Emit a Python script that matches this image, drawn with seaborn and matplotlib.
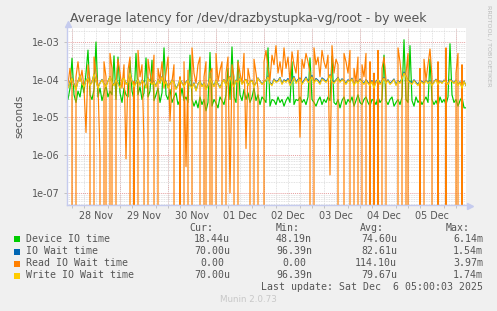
import numpy as np
import pandas as pd
import matplotlib
matplotlib.use("Agg")
import matplotlib.pyplot as plt
import matplotlib.dates as mdates
from matplotlib.lines import Line2D
from matplotlib.ticker import LogLocator, NullFormatter, FixedLocator
import seaborn as sns

# ---------------- data ----------------
series_names = ["Device IO time", "IO Wait time", "Read IO Wait time", "Write IO Wait time"]
series_colors = ["#00CC00", "#0066B3", "#FF8000", "#FFCC00"]
start_time = "2025-11-27 21:00"
sample_step = "1h"

# values in microseconds, one sample per hour
device_us = [45, 30, 60, 370, 40, 25, 50, 35, 80, 45,
             150, 610, 40, 30, 55, 1000, 35, 60, 28, 45,
             70, 35, 50, 40, 430, 30, 400, 45, 25, 60,
             40, 35, 320, 50, 30, 500, 40, 65, 30, 45,
             380, 35, 50, 330, 28, 40, 60, 25, 45, 700,
             40, 30, 55, 25, 35, 45, 22, 30, 60, 28,
             35, 25, 450, 30, 20, 28, 18, 35, 22, 30,
             15, 25, 530, 20, 30, 24, 18, 35, 28, 22,
             40, 200, 30, 740, 35, 25, 330, 40, 28, 55,
             30, 45, 25, 35, 60, 28, 40, 22, 35, 30,
             25, 700, 20, 30, 28, 22, 35, 25, 30, 20,
             28, 35, 25, 300, 22, 30, 28, 35, 25, 30,
             22, 35, 380, 30, 25, 20, 28, 35, 22, 30,
             25, 35, 28, 420, 25, 22, 30, 18, 28, 35,
             22, 30, 25, 35, 20, 28, 40, 25, 22, 30,
             35, 25, 20, 30, 28, 22, 35, 25, 30, 450,
             28, 22, 30, 35, 20, 25, 30, 22, 35, 1150,
             30, 25, 800, 28, 20, 35, 25, 30, 22, 28,
             35, 25, 350, 30, 22, 28, 20, 35, 25, 30,
             22, 35, 900, 40, 25, 30, 20, 28, 35, 18,
             18]
iowait_us = [72, 63, 88, 112, 78, 58, 92, 133, 82, 68,
             98, 112, 73, 88, 142, 92, 63, 83, 102, 78,
             68, 92, 122, 88, 73, 102, 83, 63, 98, 112,
             78, 88, 152, 92, 68, 83, 102, 73, 98, 88,
             63, 112, 92, 78, 88, 68, 102, 83, 122, 73,
             92, 63, 78, 98, 88, 58, 73, 102, 83, 68,
             88, 98, 73, 63, 83, 53, 78, 92, 68, 83,
             58, 73, 112, 88, 68, 98, 78, 63, 83, 102,
             73, 92, 122, 83, 68, 98, 88, 112, 78, 92,
             102, 73, 88, 98, 68, 83, 112, 92, 78, 88,
             98, 125, 85, 75, 105, 90, 95, 115, 80, 100,
             92, 108, 78, 98, 122, 88, 102, 112, 82, 97,
             118, 92, 102, 130, 88, 108, 97, 82, 112, 102,
             90, 106, 136, 96, 85, 100, 116, 90, 106, 95,
             80, 100, 90, 110, 75, 95, 85, 105, 90, 80,
             100, 85, 75, 95, 65, 90, 105, 80, 95, 115,
             85, 100, 80, 90, 105, 75, 95, 85, 110, 160,
             125, 95, 90, 80, 100, 85, 75, 95, 90, 80,
             98, 83, 93, 73, 88, 103, 78, 93, 83, 98,
             88, 78, 103, 93, 83, 98, 73, 88, 63, 92,
             70]
read_us = [150, 80, 200, 60, 0, 120, 300, 90, 180, 60,
           4, 250, 100, 0, 400, 150, 70, 1, 0, 300,
           120, 0, 500, 200, 0, 80, 350, 150, 60, 250,
           0.8, 180, 400, 0, 90, 0, 600, 120, 250, 2,
           0, 350, 150, 80, 450, 0, 200, 100, 300, 60,
           150, 400, 8, 90, 250, 0, 0, 120, 0, 300,
           0.5, 180, 0, 700, 150, 80, 250, 400, 0, 120,
           300, 0, 150, 200, 0, 500, 90, 180, 300, 0,
           150, 400, 0.1, 250, 120, 0, 300, 150, 80, 500,
           1.5, 200, 100, 0, 350, 150, 60, 0, 0, 300,
           600, 200, 100, 450, 250, 800, 150, 300, 120, 700,
           200, 400, 90, 550, 250, 150, 600, 3, 350, 200,
           500, 300, 150, 0, 700, 250, 400, 120, 600, 300,
           200, 450, 0.3, 800, 150, 350, 250, 0, 0, 500,
           300, 150, 600, 0, 200, 90, 400, 0, 250, 120,
           500, 0, 300, 0, 150, 0, 600, 0, 200, 400,
           100, 0, 0, 0, 0, 0, 700, 300, 80, 0,
           150, 500, 0, 0, 0, 0, 0, 200, 0, 350,
           100, 250, 650, 120, 0, 0, 300, 0, 0, 0,
           700, 0, 0, 0, 0, 150, 500, 0, 250, 0,
           0]
write_us = [70, 60, 85, 110, 75, 55, 90, 130, 80, 65,
            95, 110, 70, 85, 140, 90, 60, 80, 100, 75,
            65, 90, 120, 85, 70, 100, 80, 60, 95, 110,
            75, 85, 150, 90, 65, 80, 100, 70, 95, 85,
            60, 110, 90, 75, 85, 65, 100, 80, 120, 70,
            90, 60, 75, 95, 85, 55, 70, 100, 80, 65,
            85, 95, 70, 60, 80, 50, 75, 90, 65, 80,
            55, 70, 110, 85, 65, 95, 75, 60, 80, 100,
            70, 90, 120, 80, 65, 95, 85, 110, 75, 90,
            100, 70, 85, 95, 65, 80, 110, 90, 75, 85,
            95, 120, 80, 70, 100, 85, 90, 110, 75, 95,
            85, 100, 70, 90, 115, 80, 95, 105, 75, 90,
            110, 85, 95, 120, 80, 100, 90, 75, 105, 95,
            85, 100, 130, 90, 80, 95, 110, 85, 100, 90,
            75, 95, 85, 105, 70, 90, 80, 100, 85, 75,
            95, 80, 70, 90, 60, 85, 100, 75, 90, 110,
            80, 95, 75, 85, 100, 70, 90, 80, 105, 150,
            120, 90, 85, 75, 95, 80, 70, 90, 85, 75,
            95, 80, 90, 70, 85, 100, 75, 90, 80, 95,
            85, 75, 100, 90, 80, 95, 70, 85, 60, 90,
            70]

cur_vals = ["18.44u", "70.00u", "0.00", "70.00u"]
min_vals = ["48.19n", "96.39n", "0.00", "96.39n"]
avg_vals = ["74.60u", "82.61u", "114.10u", "79.67u"]
max_vals = ["6.14m", "1.54m", "3.97m", "1.74m"]
y_tick_values = [1e-7, 1e-6, 1e-5, 1e-4, 1e-3]
y_tick_labels = ["1e-07", "1e-06", "1e-05", "1e-04", "1e-03"]
title_text = "Average latency for /dev/drazbystupka-vg/root - by week"
last_update = "Last update: Sat Dec  6 05:00:03 2025"

# ---------------- build table ----------------
frames = []
for name, vals in zip(series_names, [device_us, iowait_us, read_us, write_us]):
    t = pd.date_range(start_time, periods=len(vals), freq=sample_step)
    frames.append(pd.DataFrame({"time": t,
                                "value": np.asarray(vals, dtype=float) * 1e-6,
                                "series": name}))
df = pd.concat(frames, ignore_index=True)

# ---------------- figure ----------------
W, H = 497, 311
BG = "#F0F0F0"
TXT = "#555555"
fig = plt.figure(figsize=(W / 100, H / 100), dpi=100, facecolor=BG)
L, R, T, B = 67, 466, 28, 205
ax = fig.add_axes([L / W, 1 - B / H, (R - L) / W, (B - T) / H])
ax.set_facecolor("white")

sns.lineplot(data=df, x="time", y="value", hue="series", hue_order=series_names,
             palette=series_colors, estimator=None, legend=False,
             linewidth=0.85, ax=ax, sort=True)

ax.set_yscale("log")
ax.set_ylim(4.8e-8, 2.35e-3)
ax.set_xlim(pd.Timestamp("2025-11-27 21:30"), pd.Timestamp("2025-12-06 05:00"))

# y ticks
ax.yaxis.set_major_locator(FixedLocator(y_tick_values))
ax.set_yticklabels(y_tick_labels)
ax.yaxis.set_minor_locator(LogLocator(base=10, subs=np.arange(2, 10), numticks=20))
ax.yaxis.set_minor_formatter(NullFormatter())

# x ticks: labels at noon, grid at midnight (red) and every 6 hours (grey)
ax.xaxis.set_major_locator(mdates.HourLocator(byhour=[12]))
ax.xaxis.set_major_formatter(mdates.DateFormatter("%d %b"))
ax.xaxis.set_minor_locator(mdates.HourLocator(byhour=[0, 6, 18]))

ax.grid(False)
ax.grid(which="minor", axis="both", color="#d8d8d8", linestyle=(0, (1, 1)), linewidth=0.6)
ax.grid(which="major", axis="x", color="#d8d8d8", linestyle=(0, (1, 1)), linewidth=0.6)
ax.grid(which="major", axis="y", color="#e6a0a0", linestyle=(0, (1, 1)), linewidth=0.7)
for d in pd.date_range("2025-11-28", "2025-12-06", freq="D"):
    ax.axvline(d, color="#e6a0a0", linestyle=(0, (1, 1)), linewidth=0.7, zorder=0.5)

ax.tick_params(axis="both", which="both", colors="#bbbbbb", labelcolor=TXT,
               labelsize=6.9, length=2, width=0.6)
ax.tick_params(axis="x", which="major", length=0, pad=4)
ax.tick_params(axis="y", which="major", pad=3)
ax.tick_params(axis="y", which="minor", length=0)
for lab in ax.get_xticklabels() + ax.get_yticklabels():
    lab.set_fontfamily("DejaVu Sans")

for s in ["top", "right"]:
    ax.spines[s].set_visible(False)
for s in ["left", "bottom"]:
    ax.spines[s].set_color("#c5cbee")
    ax.spines[s].set_linewidth(1.0)
ax.set_xlabel("")
ax.set_ylabel("seconds", color=TXT, fontsize=7.6, labelpad=6)

# axis arrows (as markers, not text)
fig.add_artist(Line2D([(R + 4) / W], [1 - (B + 0.5) / H], marker=">", markersize=4,
                      color="#c5cbee", transform=fig.transFigure, linestyle="none"))
fig.add_artist(Line2D([(L + 0.5) / W], [1 - (T - 4) / H], marker="^", markersize=4,
                      color="#c5cbee", transform=fig.transFigure, linestyle="none"))

# title
fig.text(0.5, 1 - 18.5 / H, title_text, ha="center", va="center",
         fontsize=9.0, color=TXT, family="DejaVu Sans")
fig.text(489 / W, 1 - 5 / H, "RRDTOOL / TOBI OETIKER", rotation=270,
         ha="center", va="top", fontsize=4.6, color="#bbbbbb", family="DejaVu Sans")

# legend table
mono = dict(family="DejaVu Sans Mono", fontsize=7.1, color=TXT)
def fy(y):
    return 1 - y / H

hdr_y = 227.7
fig.text(213 / W, fy(hdr_y), "Cur:", ha="right", va="center", **mono)
fig.text(300 / W, fy(hdr_y), "Min:", ha="right", va="center", **mono)
fig.text(384 / W, fy(hdr_y), "Avg:", ha="right", va="center", **mono)
fig.text(470 / W, fy(hdr_y), "Max:", ha="right", va="center", **mono)

row_ys = [239.3, 251.5, 263.5, 275.5]
col_right = [230, 312, 397, 483]
for i, name in enumerate(series_names):
    y = row_ys[i]
    fig.patches.append(plt.Rectangle((14 / W, fy(y + 3)), 6 / W, 6 / H,
                                     transform=fig.transFigure,
                                     facecolor=series_colors[i], edgecolor="none"))
    fig.text(26 / W, fy(y), name, ha="left", va="center", **mono)
    for vals, xr in zip([cur_vals, min_vals, avg_vals, max_vals], col_right):
        v = vals[i]
        shift = 0 if v[-1].isalpha() else 6
        fig.text((xr - shift) / W, fy(y), v, ha="right", va="center", **mono)

fig.text(483 / W, fy(287.3), last_update, ha="right", va="center", **mono)
fig.text(248 / W, fy(300), "Munin 2.0.73", ha="center", va="center",
         fontsize=6.3, color="#c8c8c8", family="DejaVu Sans")

fig.savefig("out.png", dpi=100, facecolor=BG)
